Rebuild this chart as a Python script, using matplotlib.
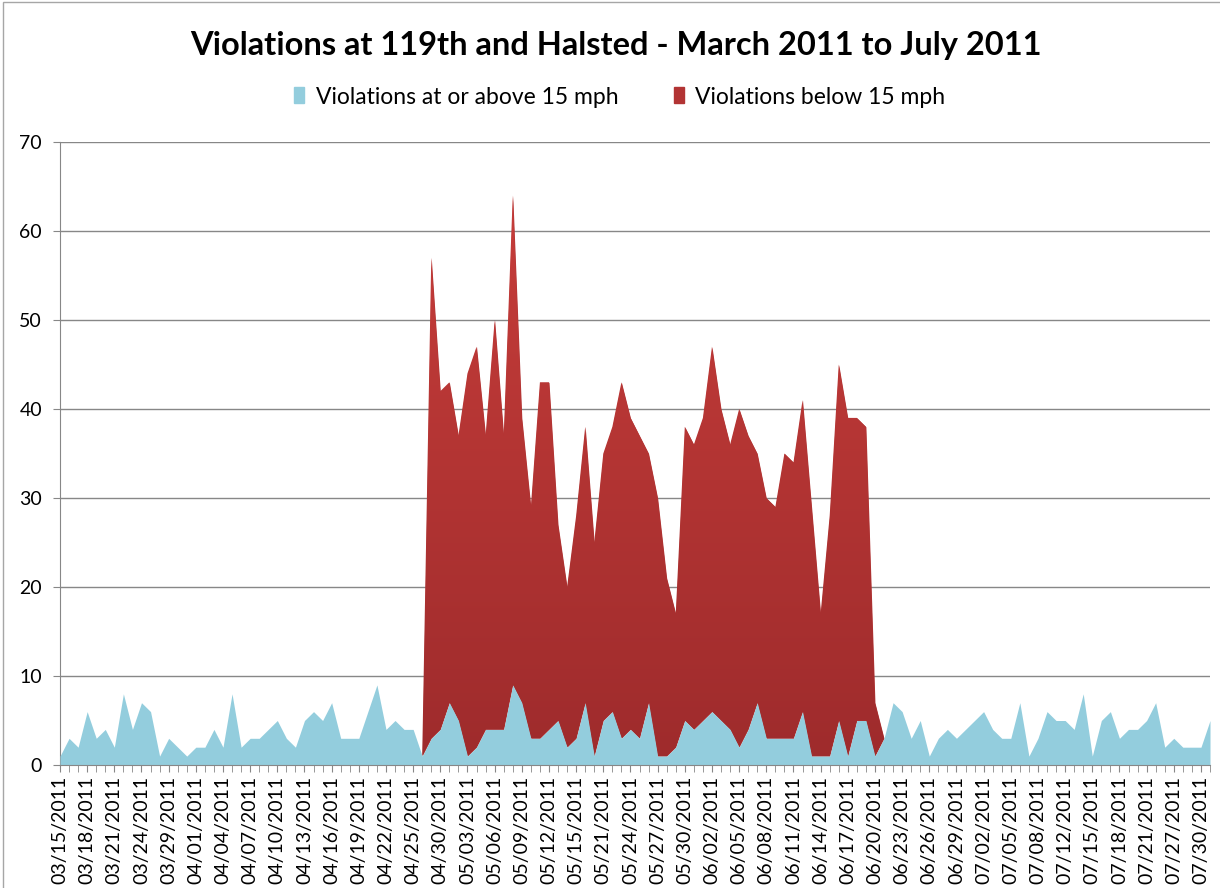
import matplotlib
matplotlib.use("Agg")
import matplotlib.pyplot as plt
import numpy as np
from matplotlib.colors import LinearSegmentedColormap
from matplotlib.patches import Patch, Rectangle

plt.rcParams["font.family"] = ["Lato", "DejaVu Sans"]

title = "Violations at 119th and Halsted - March 2011 to July 2011"
series_names = ["Violations at or above 15 mph", "Violations below 15 mph"]

# every third day carries a label on the category axis
tick_labels = [
    "03/15/2011", "03/18/2011", "03/21/2011", "03/24/2011", "03/29/2011",
    "04/01/2011", "04/04/2011", "04/07/2011", "04/10/2011", "04/13/2011",
    "04/16/2011", "04/19/2011", "04/22/2011", "04/25/2011", "04/30/2011",
    "05/03/2011", "05/06/2011", "05/09/2011", "05/12/2011", "05/15/2011",
    "05/21/2011", "05/24/2011", "05/27/2011", "05/30/2011", "06/02/2011",
    "06/05/2011", "06/08/2011", "06/11/2011", "06/14/2011", "06/17/2011",
    "06/20/2011", "06/23/2011", "06/26/2011", "06/29/2011", "07/02/2011",
    "07/05/2011", "07/08/2011", "07/12/2011", "07/15/2011", "07/18/2011",
    "07/21/2011", "07/27/2011", "07/30/2011",
]

above_15 = [
    1, 3, 2, 6, 3, 4, 2, 8, 4, 7, 6, 1, 3, 2, 1, 2,
    2, 4, 2, 8, 2, 3, 3, 4, 5, 3, 2, 5, 6, 5, 7, 3,
    3, 3, 6, 9, 4, 5, 4, 4, 1, 3, 4, 7, 5, 1, 2, 4,
    4, 4, 9, 7, 3, 3, 4, 5, 2, 3, 7, 1, 5, 6, 3, 4,
    3, 7, 1, 1, 2, 5, 4, 5, 6, 5, 4, 2, 4, 7, 3, 3,
    3, 3, 6, 1, 1, 1, 5, 1, 5, 5, 1, 3, 7, 6, 3, 5,
    1, 3, 4, 3, 4, 5, 6, 4, 3, 3, 7, 1, 3, 6, 5, 5,
    4, 8, 1, 5, 6, 3, 4, 4, 5, 7, 2, 3, 2, 2, 2, 5,
]

below_15 = [
    0, 0, 0, 0, 0, 0, 0, 0, 0, 0, 0, 0, 0, 0, 0, 0,
    0, 0, 0, 0, 0, 0, 0, 0, 0, 0, 0, 0, 0, 0, 0, 0,
    0, 0, 0, 0, 0, 0, 0, 0, 0, 54, 38, 36, 32, 43, 45, 33,
    46, 33, 55, 32, 26, 40, 39, 22, 18, 25, 31, 24, 30, 32, 40, 35,
    34, 28, 29, 20, 15, 33, 32, 34, 41, 35, 32, 38, 33, 28, 27, 26,
    32, 31, 35, 28, 16, 27, 40, 38, 34, 33, 6, 0, 0, 0, 0, 0,
    0, 0, 0, 0, 0, 0, 0, 0, 0, 0, 0, 0, 0, 0, 0, 0,
    0, 0, 0, 0, 0, 0, 0, 0, 0, 0, 0, 0, 0, 0, 0, 0,
]

blue = np.array(above_15)
red = np.array(below_15)
x = np.arange(len(blue))
top = blue + red

blue_color = "#93CDDD"
grid_color = "#878787"

fig = plt.figure(figsize=(12.2, 8.88), dpi=100)
ax = fig.add_axes([60 / 1220, 1 - 765 / 888, 1150 / 1220, 623 / 888])

# stacked area: red sits on top of blue, with a vertical gradient like Excel
red_area = ax.fill_between(x, blue, top, color="#B23434", lw=0, zorder=2)
red_cmap = LinearSegmentedColormap.from_list("reds", ["#9E2B2C", "#C63D3A"])
grad = np.linspace(0, 1, 256).reshape(-1, 1)
im = ax.imshow(grad, cmap=red_cmap, origin="lower", aspect="auto",
               extent=[x[0], x[-1], 0, top.max()], zorder=2.5)
im.set_clip_path(red_area.get_paths()[0], transform=ax.transData)

ax.fill_between(x, 0, blue, color=blue_color, lw=0, zorder=3)

ax.set_xlim(x[0], x[-1])
ax.set_ylim(0, 70)
ax.set_yticks(range(0, 71, 10))
ax.yaxis.grid(True, color=grid_color, lw=1)
ax.set_axisbelow(True)

ax.set_xticks(x[::3], tick_labels, rotation=90)
ax.set_xticks(x, minor=True)
ax.tick_params(axis="x", which="both", length=5, color=grid_color,
               labelsize=14, pad=3)
ax.tick_params(axis="y", length=5, color=grid_color, labelsize=14, pad=8)

for side in ["top", "right"]:
    ax.spines[side].set_visible(False)
for side in ["left", "bottom"]:
    ax.spines[side].set_color(grid_color)
ax.spines["bottom"].set_zorder(4)

fig.text(0.505, 1 - 46 / 888, title, ha="center", va="center",
         fontsize=23.5, fontweight="bold")

handles = [Patch(color=blue_color), Patch(color="#B23434")]
fig.legend(handles, series_names, loc="center", ncol=2,
           bbox_to_anchor=(0.508, 1 - 97 / 888), frameon=False,
           fontsize=16.5, handlelength=0.45, handleheight=0.7,
           handletextpad=0.5, columnspacing=2.4)

# chart border, cut off at the right and bottom like the screenshot
fig.patches.append(Rectangle((3 / 1220, -0.05), 1.1, 1.05 - 2 / 888,
                             transform=fig.transFigure, fill=False,
                             edgecolor="#A6A6A6", lw=1))

fig.savefig("out.png", dpi=100)
